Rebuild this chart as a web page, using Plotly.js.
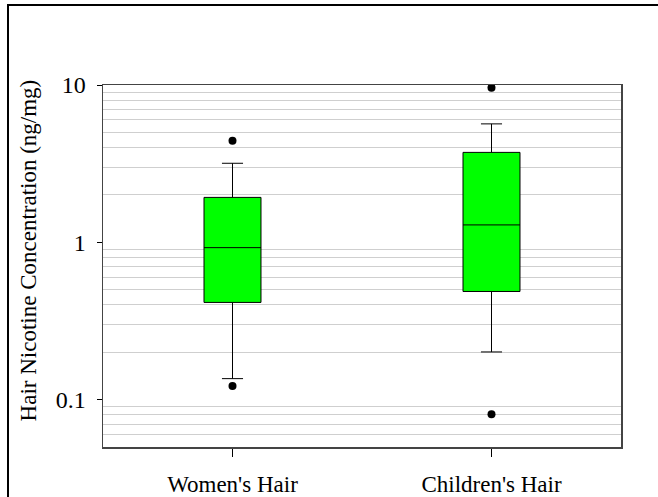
<!DOCTYPE html>
<html><head><meta charset="utf-8">
<script src="https://cdn.plot.ly/plotly-3.0.1.min.js"></script>
<style>
html,body{margin:0;padding:0;background:#fff;overflow:hidden;}
#wrap{position:relative;width:658px;height:497px;}
#plot{width:658px;height:497px;}
#frame{position:absolute;left:7px;top:4px;width:700px;height:600px;border:2px solid #000;pointer-events:none;}
</style></head>
<body><div id="wrap"><div id="plot"></div><div id="frame"></div></div>
<script>
var categories = ["Women's Hair", "Children's Hair"];
var q1 = [0.415, 0.487];
var medians = [0.925, 1.29];
var q3 = [1.93, 3.73];
var lowerWhisker = [0.136, 0.201];
var upperWhisker = [3.18, 5.66];
var outlierCats = ["Women's Hair", "Women's Hair", "Children's Hair", "Children's Hair"];
var outlierVals = [4.42, 0.122, 9.62, 0.0807];
var majorTicks = [0.1, 1, 10];
var majorLabels = ['0.1', '1', '10'];
var minorTicks = [0.06,0.07,0.08,0.09,0.2,0.3,0.4,0.5,0.6,0.7,0.8,0.9,2,3,4,5,6,7,8,9];
var yTitle = 'Hair Nicotine Concentration (ng/mg)';

var traces = [
  {type:'box', x:categories, q1:q1, median:medians, q3:q3,
   lowerfence:lowerWhisker, upperfence:upperWhisker,
   boxpoints:false, width:0.22, whiskerwidth:0.37,
   fillcolor:'#00ff00', line:{color:'#000', width:1}, hoverinfo:'skip'},
  {type:'scatter', mode:'markers', x:outlierCats, y:outlierVals,
   marker:{color:'#000', size:8}, hoverinfo:'skip'}
];
var fam = '"Liberation Serif", "Times New Roman", serif';
var layout = {
  width:658, height:497,
  margin:{l:103, r:37, t:85, b:50},
  paper_bgcolor:'#fff', plot_bgcolor:'#fff',
  showlegend:false,
  font:{family:fam, color:'#000'},
  xaxis:{type:'category', categoryarray:categories, range:[-0.5,1.5],
    showline:true, linecolor:'#444', linewidth:1.5, mirror:true,
    ticks:'outside', ticklen:8, tickcolor:'#000', showgrid:false, zeroline:false,
    ticklabelstandoff:8,
    tickfont:{family:fam, size:23, color:'#000'}},
  yaxis:{type:'log', range:[Math.log10(0.05), 1],
    tickmode:'array', tickvals:majorTicks, ticktext:majorLabels,
    showline:true, linecolor:'#444', linewidth:1.5, mirror:true,
    ticks:'outside', ticklen:5, tickcolor:'#000', showgrid:false, zeroline:false,
    ticklabelstandoff:6,
    tickfont:{family:fam, size:24, color:'#000'},
    minor:{tickmode:'array', tickvals:minorTicks, showgrid:true, gridcolor:'#cfcfcf', gridwidth:1, ticks:''}},
  annotations:[{text:yTitle, xref:'paper', yref:'paper', x:0, y:0.543,
    xanchor:'center', yanchor:'middle', xshift:-75, textangle:-90, showarrow:false,
    font:{family:fam, size:23, color:'#000'}}]
};
Plotly.newPlot('plot', traces, layout, {staticPlot:true});
</script></body></html>
